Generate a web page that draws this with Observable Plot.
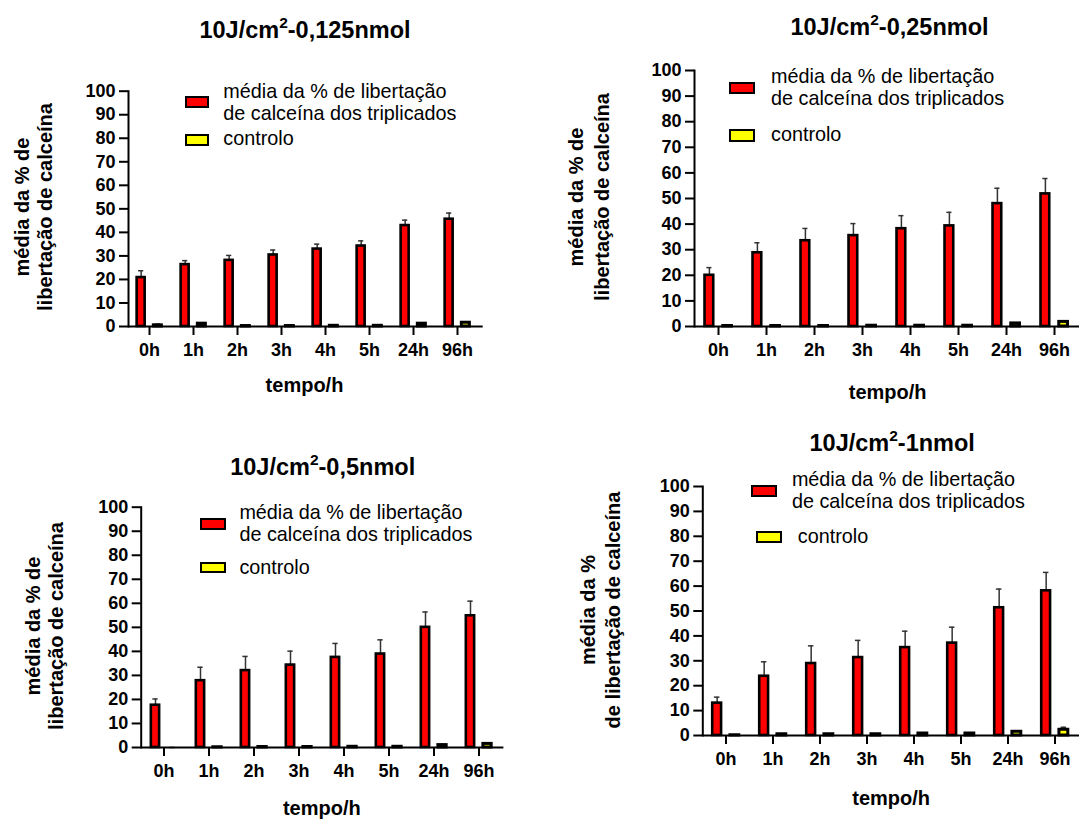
<!DOCTYPE html>
<html>
<head>
<meta charset="utf-8">
<script src="https://cdn.jsdelivr.net/npm/d3@7"></script>
<script src="https://cdn.jsdelivr.net/npm/@observablehq/plot@0.6"></script>
<style>
  html, body { margin: 0; padding: 0; background: #fff; overflow: hidden; }
  #page { position: relative; width: 1079px; height: 819px; overflow: hidden; background: #fff;
          font-family: "Liberation Sans", Arial, sans-serif; color: #000; }
  .abs { position: absolute; white-space: nowrap; }
  .title { font-size: 23.5px; font-weight: bold; transform: translate(-50%, -50%); }
  .title sup { font-size: 0.66em; vertical-align: 0.62em; line-height: 0; }
  .xlab { font-size: 20px; font-weight: bold; transform: translate(-50%, -50%); }
  .ylab { font-size: 20px; font-weight: bold; text-align: center; transform: translate(-50%, -50%) rotate(-90deg); }
  .leg { font-size: 19.8px; line-height: 22px; }
  .sw { position: absolute; box-sizing: border-box; border: 2.5px solid #000; }
</style>
</head>
<body>
<div id="page"></div>
<script>
// ---- data ----
const times = ["0h", "1h", "2h", "3h", "4h", "5h", "24h", "96h"];
const yTicks = [0, 10, 20, 30, 40, 50, 60, 70, 80, 90, 100];

const titles = ["-0,125nmol", "-0,25nmol", "-0,5nmol", "-1nmol"];
const legendMain = ["média da % de libertação", "de calceína dos triplicados"];
const legendCtrl = "controlo";
const xLabel = "tempo/h";

// 10J/cm2 - 0,125 nmol
const red125 = [20.8, 26.3, 28.1, 30.4, 32.9, 34.2, 42.9, 45.6];
const redSd125 = [2.9, 1.7, 2.1, 2.1, 2.1, 2.2, 2.3, 2.6];
const ctrl125 = [0.5, 1.2, 0.2, 0.2, 0.3, 0.3, 1.2, 1.6];
const ctrlSd125 = [0.5, 0.3, 0.1, 0.1, 0.1, 0.1, 0.2, 0.3];

// 10J/cm2 - 0,25 nmol
const red25 = [20.0, 28.8, 33.5, 35.5, 38.2, 39.3, 48.0, 51.8];
const redSd25 = [3.0, 3.9, 4.8, 4.7, 5.1, 5.3, 6.0, 6.0];
const ctrl25 = [0.2, 0.2, 0.2, 0.3, 0.3, 0.3, 1.2, 1.8];
const ctrlSd25 = [0.1, 0.1, 0.1, 0.1, 0.1, 0.1, 0.2, 0.3];

// 10J/cm2 - 0,5 nmol
const red5 = [17.6, 27.8, 32.0, 34.3, 37.5, 38.9, 50.0, 54.8];
const redSd5 = [2.6, 5.6, 5.9, 5.8, 5.8, 5.9, 6.4, 6.1];
const ctrl5 = [0.0, 0.1, 0.2, 0.2, 0.3, 0.3, 1.0, 1.5];
const ctrlSd5 = [0.0, 0.05, 0.1, 0.1, 0.1, 0.1, 0.2, 0.3];

// 10J/cm2 - 1 nmol
const red1 = [13.0, 23.8, 28.9, 31.3, 35.3, 37.1, 51.3, 58.1];
const redSd1 = [2.4, 5.8, 7.1, 6.9, 6.6, 6.4, 7.5, 7.4];
const ctrl1 = [0.1, 0.5, 0.5, 0.5, 0.8, 0.8, 1.5, 2.3];
const ctrlSd1 = [0.05, 0.1, 0.1, 0.1, 0.1, 0.1, 0.2, 1.0];

// ---- layout (pixels) ----
const panels = [
  { left: 0, top: 0, w: 490, h: 410, ml: 128, xr: [124.3, 482.7], yTop: 90.7, yBot: 326,
    red: red125, redSd: redSd125, ctrl: ctrl125, ctrlSd: ctrlSd125, title: titles[0],
    tx: 305, ty: 30, xlx: 304.5, xly: 385, ylx: 32.75, yly: 207, ylh: 22.5,
    ylines: ["média da % de", "libertação de calceína"],
    sw: { x: 185, w: 24, h: 11.5, ry: 96, yx: 185, yy: 134.3 },
    lt: { x: 223.3, y1: 90.7, cx: 223.3, cy: 138.3 } },
  { left: 540, top: 0, w: 545, h: 410, ml: 154, xr: [150.55, 541.75], yTop: 70, yBot: 326,
    red: red25, redSd: redSd25, ctrl: ctrl25, ctrlSd: ctrlSd25, title: titles[1],
    tx: 889.5, ty: 26.7, xlx: 887.7, xly: 391.7, ylx: 589, yly: 197, ylh: 26,
    ylines: ["média da % de", "libertação de calceína"],
    sw: { x: 728.6, w: 26.6, h: 12.3, ry: 81.7, yx: 728.6, yy: 129.3 },
    lt: { x: 771, y1: 76, cx: 771, cy: 134.3 } },
  { left: 0, top: 410, w: 510, h: 409, ml: 140.7, xr: [137.85, 503.4], yTop: 96.7, yBot: 337,
    red: red5, redSd: redSd5, ctrl: ctrl5, ctrlSd: ctrlSd5, title: titles[2],
    tx: 322.7, ty: 466.7, xlx: 321.8, xly: 808, ylx: 44.15, yly: 626, ylh: 22.5,
    ylines: ["média da % de", "libertação de calceína"],
    sw: { x: 200, w: 25.6, h: 11.7, ry: 518.3, yx: 200, yy: 561.7 },
    lt: { x: 239.4, y1: 511.7, cx: 239.4, cy: 566.7 } },
  { left: 540, top: 410, w: 542, h: 409, ml: 162.3, xr: [159.55, 539.5], yTop: 76, yBot: 325,
    red: red1, redSd: redSd1, ctrl: ctrl1, ctrlSd: ctrlSd1, title: titles[3],
    tx: 892.2, ty: 443.3, xlx: 891.2, xly: 798.3, ylx: 600.9, yly: 610, ylh: 25,
    ylines: ["média da %", "de libertação de calceína"],
    sw: { x: 751, w: 26, h: 12.3, ry: 485, yx: 756.3, yy: 530.7 },
    lt: { x: 791.9, y1: 479, cx: 797.8, cy: 536 } }
];

const page = document.getElementById("page");

function addDiv(cls, html, styles) {
  const d = document.createElement("div");
  d.className = cls;
  d.innerHTML = html;
  Object.assign(d.style, styles);
  page.appendChild(d);
  return d;
}

for (const p of panels) {
  const data = times.map((t, i) => ({
    time: t, red: p.red[i], redSd: p.redSd[i], ctrl: p.ctrl[i], ctrlSd: p.ctrlSd[i]
  }));
  const step = (p.xr[1] - p.xr[0]) / times.length;
  const inNear = 0.215 * step;   // inset on the outer side of a bar
  const inFar = 0.588 * step;    // inset on the inner side of a bar
  const off = 0.186 * step;      // bar centre offset from group centre
  const capHalf = 3;
  const capNear = step / 2 - off - capHalf;
  const capFar = step / 2 + off - capHalf;

  const svg = Plot.plot({
    width: p.w,
    height: p.h,
    marginLeft: p.ml,
    marginRight: p.w - p.xr[1],
    marginTop: p.yTop,
    marginBottom: p.h - p.yBot,
    style: { fontFamily: "'Liberation Sans', Arial, sans-serif", fontSize: "18px", fontWeight: "bold",
             color: "#000", background: "transparent", overflow: "visible" },
    x: { type: "band", domain: times, range: p.xr, padding: 0, label: null },
    y: { domain: [0, 100], label: null },
    marks: [
      Plot.axisY({ ticks: yTicks, tickSize: 9, tickPadding: 4, strokeWidth: 2, label: null, fontSize: 18, tickFormat: d => String(d) }),
      Plot.axisX({ tickSize: 9, tickPadding: 8, strokeWidth: 2, label: null, fontSize: 18 }),
      // error bars (upper only)
      Plot.ruleX(data, { x: "time", y1: "red", y2: d => d.red + d.redSd, dx: -off, stroke: "#333", strokeWidth: 1.5 }),
      Plot.tickY(data, { x: "time", y: d => d.red + d.redSd, insetLeft: capNear, insetRight: capFar, stroke: "#333", strokeWidth: 1.5 }),
      Plot.ruleX(data, { x: "time", y1: "ctrl", y2: d => d.ctrl + d.ctrlSd, dx: off, stroke: "#333", strokeWidth: 1.5 }),
      Plot.tickY(data, { x: "time", y: d => d.ctrl + d.ctrlSd, insetLeft: capFar, insetRight: capNear, stroke: "#333", strokeWidth: 1.5 }),
      // bars
      Plot.barY(data, { x: "time", y: "red", fill: "#ff0000", stroke: "#000", strokeWidth: 2.6, insetLeft: inNear, insetRight: inFar }),
      Plot.barY(data, { x: "time", y: "ctrl", fill: "#ffff00", stroke: "#000", strokeWidth: 3, insetLeft: inFar, insetRight: inNear }),
      // axis lines
      Plot.ruleY([0], { stroke: "#000", strokeWidth: 2 }),
      Plot.frame({ anchor: "left", stroke: "#000", strokeWidth: 2 })
    ]
  });
  svg.style.position = "absolute";
  svg.style.left = p.left + "px";
  svg.style.top = p.top + "px";
  svg.style.maxWidth = "none";
  page.appendChild(svg);

  // title
  addDiv("abs title", "10J/cm<sup>2</sup>" + p.title, { left: p.tx + "px", top: p.ty + "px" });
  // x label
  addDiv("abs xlab", xLabel, { left: p.xlx + "px", top: p.xly + "px" });
  // y label (two lines, rotated)
  addDiv("abs ylab", p.ylines.join("<br>"), { left: p.ylx + "px", top: p.yly + "px", lineHeight: p.ylh + "px" });
  // legend swatches
  const sr = document.createElement("div");
  sr.className = "sw";
  Object.assign(sr.style, { left: p.sw.x + "px", top: p.sw.ry + "px", width: p.sw.w + "px", height: p.sw.h + "px", background: "#ff0000" });
  page.appendChild(sr);
  const sy = document.createElement("div");
  sy.className = "sw";
  Object.assign(sy.style, { left: p.sw.yx + "px", top: p.sw.yy + "px", width: p.sw.w + "px", height: p.sw.h + "px", background: "#ffff00" });
  page.appendChild(sy);
  // legend text
  addDiv("abs leg", legendMain.join("<br>"), { left: p.lt.x + "px", top: (p.lt.y1 - 11) + "px" });
  addDiv("abs leg", legendCtrl, { left: p.lt.cx + "px", top: (p.lt.cy - 11) + "px" });
}
</script>
</body>
</html>
